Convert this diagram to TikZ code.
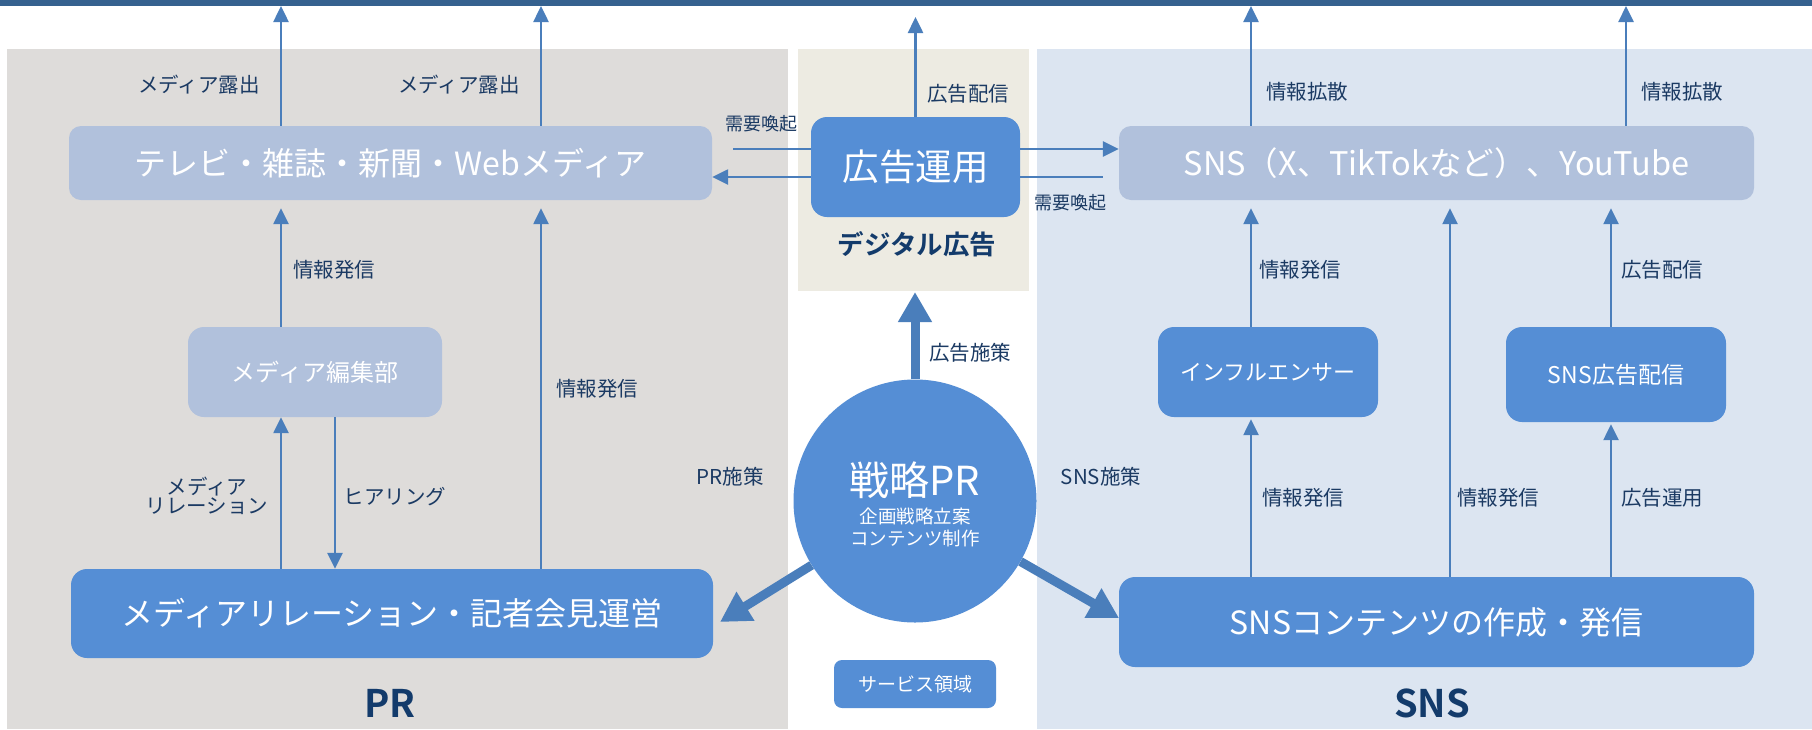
\documentclass[tikz,border=0pt]{standalone}
\usepackage{fontspec}
\setmainfont{Noto Sans CJK JP}[BoldFont={Noto Sans CJK JP Bold}]
\usetikzlibrary{arrows.meta}
\definecolor{barc}{HTML}{35618F}
\definecolor{arrc}{HTML}{4A7EBB}
\definecolor{darkn}{HTML}{558ED5}
\definecolor{lightn}{HTML}{B1C1DC}
\definecolor{prbg}{HTML}{DEDCDA}
\definecolor{dgbg}{HTML}{EDEBE2}
\definecolor{snsbg}{HTML}{DCE5F1}
\definecolor{labc}{HTML}{1B3A63}
\definecolor{headc}{HTML}{133B6B}
\newcommand{\fsz}[1]{\fontsize{#1pt}{#1pt}\selectfont}
\tikzset{
  box/.style={rounded corners=12pt, inner sep=0pt, text=white, align=center},
  darkbox/.style={box, fill=darkn},
  lightbox/.style={box, fill=lightn},
  lab/.style={text=labc, inner sep=0pt, align=center, font=\fsz{20.5}},
  arr/.style={draw=arrc, line width=2.5pt, -{Triangle[length=16pt,width=15pt]}},
  plain/.style={draw=arrc, line width=2.5pt},
  bigarr/.style={draw=arrc, line width=9pt, -{Triangle[length=30pt,width=32pt]}},
  head/.style={text=headc, inner sep=0pt, font=\bfseries\fsz{38}},
}
\begin{document}
\begin{tikzpicture}[x=1pt,y=-1pt]
\useasboundingbox (0,0) rectangle (1812,729);
% backgrounds
\fill[white] (0,0) rectangle (1812,729);
\fill[prbg] (7,49) rectangle (788,729);
\fill[dgbg] (798,49) rectangle (1029,291);
\fill[snsbg] (1037,49) rectangle (1812,729);
\fill[barc] (0,0) rectangle (1812,6);

% nodes
\node[lightbox, minimum width=643pt, minimum height=74pt, font=\fsz{32}] (tv) at (390.5,163) {テレビ・雑誌・新聞・Webメディア};
\node[darkbox, minimum width=209pt, minimum height=100pt, rounded corners=16pt, font=\fsz{36.5}] (ad) at (915.5,167) {広告運用};
\node[lightbox, minimum width=635pt, minimum height=74pt, font=\fsz{32.5}] (sns) at (1436.5,163) {SNS（X、TikTokなど）、YouTube};
\node[lightbox, minimum width=254pt, minimum height=90pt, rounded corners=16pt, font=\fsz{24}] (ed) at (315,372) {メディア編集部};
\node[darkbox, minimum width=642pt, minimum height=89pt, rounded corners=16pt, font=\fsz{32}] (mr) at (392,613.5) {メディアリレーション・記者会見運営};
\node[darkbox, minimum width=220pt, minimum height=90pt, rounded corners=16pt, font=\fsz{22}] (infl) at (1268,372) {インフルエンサー};
\node[darkbox, minimum width=220pt, minimum height=95pt, rounded corners=16pt, font=\fsz{23}] (sad) at (1616,374.5) {SNS広告配信};
\node[darkbox, minimum width=635pt, minimum height=90pt, rounded corners=16pt, font=\fsz{32}] (snsc) at (1436.5,622) {SNSコンテンツの作成・発信};
\node[circle, fill=darkn, minimum size=243pt, inner sep=0pt] (c) at (915,501) {};
\node[text=white, inner sep=0pt, font=\fsz{40}] (ct1) at (915,480) {戦略PR};
\node[text=white, inner sep=0pt, font=\fsz{18.5}] (ct2) at (915,516) {企画戦略立案};
\node[text=white, inner sep=0pt, font=\fsz{18.5}] (ct3) at (915,538) {コンテンツ制作};
\node[darkbox, minimum width=162pt, minimum height=48pt, rounded corners=8pt, font=\fsz{19}] (svc) at (915,684) {サービス領域};

% headings
\node[head] (hpr) at (390,703) {PR};
\node[head] (hsns) at (1432,703) {SNS};
\node[head, font=\bfseries\fsz{26.5}] (hdg) at (917,244) {デジタル広告};

% free-end coordinates
\coordinate (t1) at (281,6);
\coordinate (t2) at (541,6);
\coordinate (t3) at (1251,6);
\coordinate (t4) at (1626,6);
\coordinate (t5) at (915.5,17);
\coordinate (ly1) at (0,149);
\coordinate (ly2) at (0,177);
\coordinate (la) at (733,149);
\coordinate (ra) at (1103,177);
\coordinate (x1) at (281,0);
\coordinate (x2) at (335,0);
\coordinate (x3) at (541,0);
\coordinate (s1) at (1251,0);
\coordinate (s2) at (1450,0);
\coordinate (s3) at (1611,0);
\coordinate (pl) at (720,622);
\coordinate (pr) at (1119,618);
\coordinate (pt) at (915,292);

% top arrows
\draw[arr] (tv.north -| t1) -- (t1);
\draw[arr] (tv.north -| t2) -- (t2);
\draw[arr] (sns.north -| t3) -- (t3);
\draw[arr] (sns.north -| t4) -- (t4);
\draw[arr] (ad.north) -- (t5);

% ad <-> media
\draw[plain] (ad.west |- ly1) -- (la);
\draw[arr] (ad.west |- ly2) -- (tv.east |- ly2);
\draw[arr] (ad.east |- ly1) -- (sns.west |- ly1);
\draw[plain] (ad.east |- ly2) -- (ra);

% PR side
\draw[arr, shorten >=8pt] (ed.north -| x1) -- (tv.south -| x1);
\draw[arr, shorten >=8pt] (mr.north -| x3) -- (tv.south -| x3);
\draw[arr] (mr.north -| x1) -- (ed.south -| x1);
\draw[arr] (ed.south -| x2) -- (mr.north -| x2);

% SNS side
\draw[arr, shorten >=8pt] (infl.north -| s1) -- (sns.south -| s1);
\draw[arr, shorten >=8pt] (snsc.north -| s2) -- (sns.south -| s2);
\draw[arr, shorten >=8pt] (sad.north -| s3) -- (sns.south -| s3);
\draw[arr, shorten >=2pt] (snsc.north -| s1) -- (infl.south -| s1);
\draw[arr, shorten >=2pt] (snsc.north -| s3) -- (sad.south -| s3);

% thick arrows from circle
\draw[bigarr] (c) -- (pl);
\draw[bigarr] (c) -- (pr);
\draw[bigarr] (c) -- (pt);

% labels
\node[lab] (l1) at (199,85) {メディア露出};
\node[lab] (l2) at (459,85) {メディア露出};
\node[lab, font=\fsz{18}] (l3) at (761,124) {需要喚起};
\node[lab, font=\fsz{18}] (l4) at (1070,203) {需要喚起};
\node[lab] (l5) at (968,94) {広告配信};
\node[lab] (l6) at (1307,92) {情報拡散};
\node[lab] (l7) at (1682,92) {情報拡散};
\node[lab] (l8) at (334,270) {情報発信};
\node[lab] (l9) at (597,389) {情報発信};
\node[lab, align=center] (l10) at (207,496) {メディア\\[-1pt]リレーション};
\node[lab] (l11) at (395,497) {ヒアリング};
\node[lab] (l12) at (730,477) {PR施策};
\node[lab] (l13) at (970,353) {広告施策};
\node[lab] (l14) at (1101,477) {SNS施策};
\node[lab] (l15) at (1300,270) {情報発信};
\node[lab] (l16) at (1662,270) {広告配信};
\node[lab] (l17) at (1303,498) {情報発信};
\node[lab] (l18) at (1498,498) {情報発信};
\node[lab] (l19) at (1662,498) {広告運用};
\end{tikzpicture}
\end{document}
